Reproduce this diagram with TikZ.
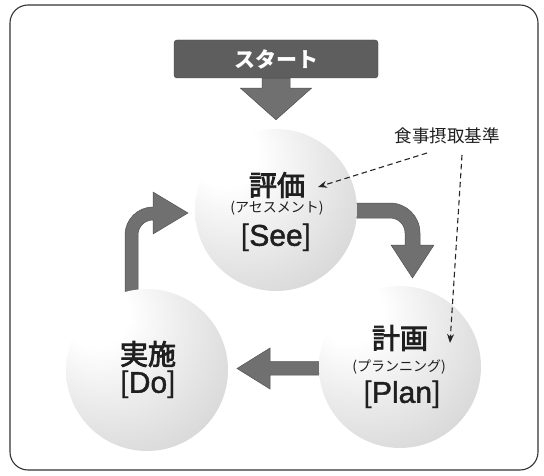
\documentclass[tikz,border=0pt]{standalone}
\usepackage{fontspec}
\setmainfont{Liberation Sans}
\newfontfamily\jp{Noto Sans CJK JP}
\newfontfamily\jpm[FakeBold=3]{Noto Sans CJK JP}
\newfontfamily\engm[FakeBold=1.5]{Liberation Sans}
\usetikzlibrary{arrows.meta}
\pgfdeclarelayer{background}
\pgfsetlayers{background,main}
\pgfdeclareradialshading{sphereshade}{\pgfpoint{-18bp}{20bp}}{color(0bp)=(white); color(10bp)=(white); color(25bp)=(black!8); color(45bp)=(black!18); color(78bp)=(black!32)}
\begin{document}
\begin{tikzpicture}[x=1pt,y=1pt,
  sphere/.style={circle, minimum size=162pt, inner sep=0pt, shading=sphereshade},
  bigarrow/.style={fill=black!56, draw=black!68, line width=0.5pt},
  title/.style={font=\jpm\fontsize{28}{30}\selectfont, text=black!88},
  sub/.style={font=\jp\fontsize{14}{15}\selectfont, text=black!88},
  eng/.style={font=\fontsize{30}{32}\selectfont, text=black!88},
  notetext/.style={font=\jp\fontsize{17.5}{19}\selectfont, text=black!88},
  note/.style={dash pattern=on 5.5pt off 3.5pt, line width=1.1pt, black!85, -{Stealth[length=9pt,width=7pt]}}
]
\useasboundingbox (0,0) rectangle (544,475);
\draw[line width=1.1pt, rounded corners=18pt, black!80] (10,5) rectangle (538,470);

% start box
\node[draw=black!75, fill=black!63, rounded corners=3pt, minimum width=204pt, minimum height=38pt,
      text=white, font=\jp\bfseries\fontsize{21}{23}\selectfont] (start) at (276,416) {スタート};

% spheres
\node[sphere] (see) at (276,265) {};
\node[sphere] (plan) at (400,108) {};
\node[sphere] (do) at (147,105) {};

% texts
\node[title] (seeT) at (277,290) {評価};
\node[sub] (seeS) at (277,267) {(アセスメント)};
\node[eng] (seeE) at (276,237) {[{\engm See}]};

\node[title] (planT) at (400,137) {計画};
\node[sub] (planS) at (399,108) {(プランニング)};
\node[eng] (planE) at (402,80) {[{\engm Plan}]};

\node[title] (doT) at (148,121) {実施};
\node[eng] (doE) at (148,90) {[{\engm Do}]};

% note
\node[notetext] (kijun) at (447,339) {食事摂取基準};
\coordinate (k1) at ([xshift=-20pt,yshift=-17pt]kijun.center);
\coordinate (k2) at ([xshift=15pt,yshift=-19pt]kijun.center);
\coordinate (seeIn) at (318,288);
\coordinate (planIn) at (450,132);
\draw[note] (k1) -- (seeIn);
\draw[note] (k2) -- (planIn);

\begin{pgfonlayer}{background}
% start arrow
\path[bigarrow] ([xshift=-14pt]start.south) -- ++(0,-10) -- ++(-21.5,0)
  -- ([yshift=9pt]see.north) -- ([xshift=35.5pt,yshift=-10pt]start.south) -- ++(-21.5,0)
  -- ([xshift=14pt]start.south) -- cycle;
% see -> plan
\path[bigarrow] (350,272) -- (390,272) arc[start angle=90, end angle=0, radius=30]
  -- (420,230) -- (434,230) -- (412.5,197) -- (391,230) -- (405,230)
  -- (405,242) arc[start angle=0, end angle=90, radius=15] -- (350,257) -- cycle;
% plan -> do
\path[bigarrow] (325,113.5) -- (270,113.5) -- (270,127) -- (237,106.5) -- (270,86) -- (270,100) -- (325,100) -- cycle;
% do -> see
\path[bigarrow] (125,180) -- (125,240) arc[start angle=180, end angle=90, radius=28]
  -- (153,283) -- (188,262) -- (153,241) -- (153,255)
  arc[start angle=90, end angle=180, radius=15] -- (138,180) -- cycle;
\end{pgfonlayer}
\end{tikzpicture}
\end{document}
